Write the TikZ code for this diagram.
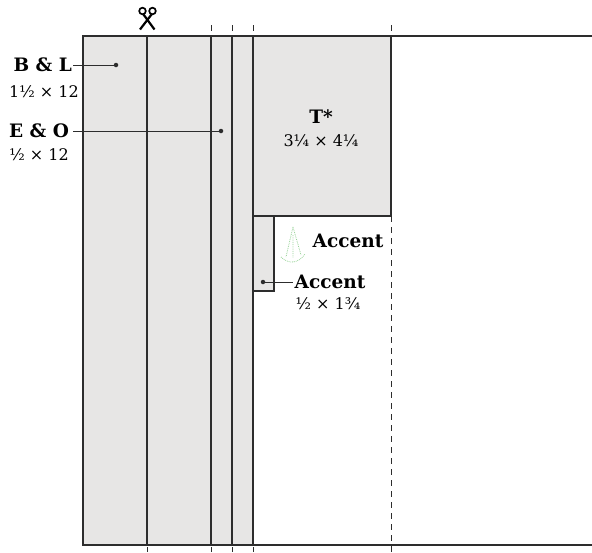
\documentclass[tikz,border=0pt]{standalone}
\usepackage{fontspec}
\setmainfont{DejaVu Serif}
\usepackage{tikz}
\definecolor{fabric}{RGB}{231,230,229}
\definecolor{inkline}{RGB}{45,45,45}
\definecolor{swatch}{RGB}{150,210,150}

\begin{document}
\begin{tikzpicture}[x=1pt,y=-1pt,
edge/.style={draw=inkline, line width=1.3pt},
piece/.style={fill=fabric, draw=inkline, line width=1.3pt},
fold/.style={draw=inkline, line width=1pt, dash pattern=on 6pt off 5pt},
cutmark/.style={draw=inkline, line width=1pt},
dot/.style={circle, fill=inkline, inner sep=0pt, minimum size=4.5pt},
lead/.style={draw=inkline, line width=0.9pt},
piecename/.style={font=\bfseries\fontsize{18.5}{18.5}\selectfont, inner sep=1pt},
dims/.style={font=\fontsize{16}{16}\selectfont, inner sep=1pt}]
\useasboundingbox (0,0) rectangle (592,552);
% fabric strip and cuts
\fill[fabric] (83,36) rectangle (253,545);
\draw[edge] (592,36) -- (83,36) -- (83,545) -- (592,545);
\foreach \x in {147,211,232,253}
  \draw[edge] (\x,36) -- (\x,545);
\draw[piece] (253,36) rectangle (391,216);
\draw[piece] (253,216) rectangle (274,291);
\draw[fold] (391,216) -- (391,552);
\foreach \x in {211,232,253,391}
  \draw[cutmark] (\x,25) -- (\x,31);
\foreach \x in {147,211,232,253}
  \draw[cutmark] (\x,547) -- (\x,552);
% scissors
\draw[black, line width=1.7pt] (142.5,11) circle (3.3) (152.5,11) circle (3.3);
\draw[black, line width=2.2pt] (143.5,14.5) -- (154.5,29.5) (151.5,14.5) -- (140,29.5);
\coordinate (scissors) at (147,29);
% swatch
\draw[swatch, line width=0.8pt, densely dotted] (293,227) -- (286,257)
  (293,227) -- (301,255) (293,235) -- (293,258)
  (281,257) .. controls (289,265) and (299,263) .. (305,254);
% labels
\node[dot] (blDot) at (116,65) {};
\node[piecename, anchor=east] (bl) at (73,65) {B \& L};
\node[dims] (blSize) at (44,92) {1½ × 12};
\draw[lead] (bl.east) -- (blDot);
\node[dot] (eoDot) at (221,131) {};
\node[piecename] (eo) at (39,131) {E \& O};
\node[dims] (eoSize) at (39,155) {½ × 12};
\draw[lead] (eo.east) ++(3,0) -- (eoDot);
\node[piecename] (top) at (321,117) {T*};
\node[dims] (topSize) at (321,141) {3¼ × 4¼};
\node[piecename] (accent) at (348,241) {Accent};
\node[dot] (acDot) at (263,282) {};
\node[piecename] (accentB) at (330,282) {Accent};
\node[dims] (accentSize) at (328,304) {½ × 1¾};
\draw[lead] (acDot) -- (accentB.west);
\end{tikzpicture}
\end{document}
